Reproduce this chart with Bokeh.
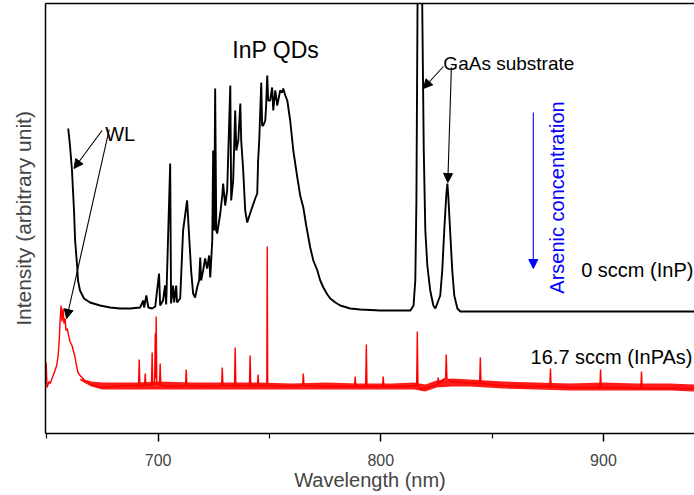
from bokeh.plotting import figure
from bokeh.models import (Range1d, FixedTicker, LinearAxis, Arrow, NormalHead, Label)
from bokeh.embed import file_html
from bokeh.resources import INLINE

# ---------------- data ----------------
# 0 sccm (InP) spectrum: (wavelength nm, intensity a.u.)
inp_points = [
    (659.6, 305), (660.4, 288), (661.3, 263), (662.2, 223), (662.7, 193), (663.6, 168),
    (664.0, 153), (664.9, 143), (666.7, 135), (669.4, 131), (673.9, 128), (678.4, 126),
    (682.9, 125), (687.4, 125), (691.9, 126), (693.3, 133), (693.7, 126), (694.7, 138),
    (695.6, 126), (697.3, 125), (698.7, 127), (700.4, 160), (700.9, 128), (702.2, 133),
    (703.1, 148), (703.6, 129), (705.4, 270), (705.8, 130), (706.7, 148), (707.2, 131),
    (708.1, 148), (708.5, 131), (709.9, 135), (711.2, 203), (712.1, 218), (713.0, 233),
    (713.9, 198), (714.8, 163), (715.7, 140), (716.6, 136), (717.5, 146), (718.4, 153),
    (718.9, 176), (719.3, 153), (720.2, 163), (721.1, 175), (722.0, 165), (722.9, 178),
    (723.4, 156), (724.3, 193), (724.7, 283), (725.2, 203), (725.6, 345), (726.1, 203),
    (726.5, 200), (727.9, 220), (728.8, 238), (729.2, 250), (730.1, 228), (731.0, 243),
    (732.4, 348), (732.8, 233), (733.7, 253), (734.6, 323), (735.1, 283), (736.0, 293),
    (736.9, 330), (737.3, 293), (738.2, 263), (739.1, 223), (740.0, 211), (741.3, 220),
    (742.2, 226), (743.6, 235), (744.5, 240), (744.9, 273), (745.4, 293), (746.3, 351),
    (746.7, 308), (747.2, 308), (748.1, 313), (748.5, 328), (749.0, 358), (749.4, 333),
    (750.3, 333), (751.2, 346), (751.7, 323), (752.6, 343), (753.5, 328), (754.8, 343),
    (755.7, 341), (756.2, 345), (757.1, 338), (758.0, 333), (759.3, 313), (760.7, 283),
    (762.5, 256), (763.8, 238), (765.2, 226), (766.5, 208), (768.3, 186), (769.7, 173),
    (771.5, 163), (772.8, 153), (774.2, 146), (776.0, 139), (777.3, 135), (779.6, 131),
    (781.8, 128), (786.3, 125), (790.8, 124), (799.8, 123), (808.8, 123), (813.3, 123),
    (814.7, 128), (815.5, 153), (816.0, 233), (816.5, 430), (817.5, 800), (818.6, 430),
    (819.3, 283), (820.0, 203), (820.9, 168), (822.2, 143), (823.6, 128), (824.5, 125),
    (826.7, 138), (827.6, 163), (828.5, 203), (829.4, 238), (829.9, 250), (830.3, 238),
    (831.2, 200), (832.1, 163), (833.0, 138), (834.4, 125), (835.7, 122), (845.0, 122),
    (860.0, 122), (880.0, 122), (900.0, 122), (920.0, 122), (941.0, 122),
]
inp_nm = [p[0] for p in inp_points]
inp_int = [p[1] for p in inp_points]

# 16.7 sccm (InPAs) spectrum
inpas_points = [
    (649.2, 45), (649.7, 71), (650.1, 46), (651.0, 52), (651.5, 50), (652.5, 56), (653.7, 63),
    (654.4, 68), (655.1, 78), (655.6, 95), (656.0, 115), (656.4, 128), (656.8, 112),
    (657.3, 125), (657.7, 110), (658.2, 115), (658.6, 103), (659.1, 105), (659.6, 100),
    (660.4, 92), (661.3, 88), (662.0, 82), (662.7, 76), (663.3, 68), (664.0, 61),
    (664.9, 58), (666.3, 55), (667.2, 52), (668.5, 52), (669.4, 49), (671.6, 48),
    (673.9, 46), (680.0, 47), (685.0, 48), (691.2, 48), (691.5, 74), (691.8, 48),
    (693.9, 48), (694.2, 60), (694.5, 48), (697.0, 49), (697.3, 81), (697.6, 49),
    (698.4, 50), (698.7, 100), (698.9, 55), (699.1, 117), (699.4, 50), (700.6, 49),
    (700.9, 70), (701.2, 48), (706.0, 47), (712.3, 48), (712.6, 64), (712.9, 48),
    (720.0, 47), (728.5, 48), (728.8, 66), (729.1, 48), (734.3, 48), (734.6, 86),
    (734.9, 48), (741.0, 48), (741.3, 78), (741.6, 48), (744.6, 48), (744.9, 59),
    (745.2, 48), (748.8, 48), (749.0, 187), (749.2, 48), (757.0, 47), (764.9, 48),
    (765.2, 60), (765.5, 48), (775.0, 47), (788.2, 47), (788.5, 57), (788.8, 47),
    (793.2, 47), (793.5, 89), (793.8, 47), (800.8, 47), (801.1, 57), (801.4, 47),
    (810.0, 47), (816.1, 48), (816.4, 102), (816.7, 47), (818.0, 44), (821.0, 46),
    (825.5, 49), (825.8, 56), (826.1, 50), (828.0, 54), (829.1, 55), (829.4, 79),
    (829.7, 55), (831.5, 52), (836.0, 51), (844.4, 50), (844.7, 76), (845.0, 50),
    (855.0, 48), (865.0, 47), (875.9, 47), (876.2, 65), (876.5, 47), (887.0, 46),
    (898.4, 46), (898.7, 64), (899.0, 46), (908.0, 46), (916.8, 45), (917.1, 62),
    (917.4, 45), (930.0, 45), (941.0, 45),
]
inpas_nm = [p[0] for p in inpas_points]
inpas_int = [p[1] for p in inpas_points]

# noise envelope of the InPAs spectrum
band_nm = [665, 670, 675, 690, 700, 715, 730, 745, 760, 775, 790, 805, 815, 820, 825, 832,
           840, 855, 870, 885, 900, 915, 930, 941]
band_hi = [55, 52, 51, 51, 52, 51, 51, 51, 50, 51, 50, 50, 51, 49, 53, 55, 54, 52, 51, 50,
           51, 50, 50, 49]
band_lo = [53, 47, 44, 44, 44, 44, 44, 44, 44, 44, 44, 44, 44, 42, 46, 47, 47, 45, 44, 43,
           43, 43, 43, 42]

x_major = [700, 800, 900]
x_minor = [650, 750, 850, 950]

FONT = "Liberation Sans"

# ---------------- figure ----------------
p = figure(width=694, height=495, output_backend="svg", toolbar_location=None,
           x_range=Range1d(649.4, 940.9), y_range=Range1d(0, 430),
           min_border_left=45, min_border_right=0, min_border_top=3, min_border_bottom=62,
           x_axis_location=None, y_axis_location=None)
p.outline_line_color = None
p.grid.visible = False
p.background_fill_color = "white"
p.border_fill_color = "white"

xa = LinearAxis(ticker=FixedTicker(ticks=x_major, minor_ticks=x_minor))
xa.axis_label = "Wavelength (nm)"
xa.axis_label_text_font = FONT
xa.axis_label_text_font_size = "20px"
xa.axis_label_text_font_style = "normal"
xa.axis_label_standoff = 0
xa.major_label_text_font = FONT
xa.major_label_text_font_size = "16px"
xa.major_label_standoff = 12
xa.major_tick_out = 8
xa.major_tick_in = 0
xa.minor_tick_out = 5
xa.minor_tick_in = 0
xa.axis_line_width = 1.5
xa.major_tick_line_width = 1.5
xa.minor_tick_line_width = 1.2
p.add_layout(xa, "below")

ya = LinearAxis(ticker=FixedTicker(ticks=[]))
ya.axis_label = "Intensity (arbitrary unit)"
ya.axis_label_text_font = FONT
ya.axis_label_text_font_size = "21px"
ya.axis_label_text_font_style = "normal"
ya.axis_label_standoff = 11
ya.major_label_text_font_size = "0px"
ya.major_tick_out = 0
ya.major_tick_in = 0
ya.minor_tick_out = 0
ya.minor_tick_in = 0
ya.axis_line_width = 1.5
p.add_layout(ya, "left")

ta = LinearAxis(ticker=FixedTicker(ticks=[]))
ta.major_label_text_font_size = "0px"
ta.major_tick_out = 0
ta.major_tick_in = 0
ta.minor_tick_out = 0
ta.minor_tick_in = 0
ta.axis_line_width = 1.5
p.add_layout(ta, "above")

# ---------------- spectra ----------------
p.varea(x=band_nm, y1=band_lo, y2=band_hi, color="#ff0000", alpha=0.9)
p.line(inpas_nm, inpas_int, line_color="#ff0000", line_width=1.4)
p.line(inp_nm, inp_int, line_color="black", line_width=1.9)

# ---------------- annotations ----------------
def add_text(x, y, txt, size, align="left", color="black", angle=0.0, baseline="alphabetic"):
    p.add_layout(Label(x=x, y=y, text=txt, text_font=FONT, text_font_size=size,
                       text_align=align, text_baseline=baseline, text_color=color,
                       angle=angle))

add_text(676.2, 300, "WL", "20px")
add_text(733.3, 384, "InP QDs", "23px")
add_text(828.1, 370, "GaAs substrate", "19px")
add_text(940.4, 164, "0 sccm (InP)", "20px", align="right")
add_text(940.0, 77, "16.7 sccm (InPAs)", "20px", align="right")
add_text(879.3, 236, "Arsenic concentration", "20px", align="center", color="#0000ff",
         angle=1.5708, baseline="middle")

def add_arrow(x0, y0, x1, y1, color="black"):
    p.add_layout(Arrow(x_start=x0, y_start=y0, x_end=x1, y_end=y1,
                       line_color=color, line_width=1.1,
                       end=NormalHead(size=9, fill_color=color, line_color=color)))

add_arrow(674.8, 303, 662.2, 265)
add_arrow(678.0, 304, 658.9, 115)
add_arrow(828.1, 367, 819.1, 345)
add_arrow(831.7, 366, 830.1, 251)
add_arrow(868.5, 321, 868.5, 165, color="#0000ff")

open("out.html", "w").write(file_html(p, INLINE))
